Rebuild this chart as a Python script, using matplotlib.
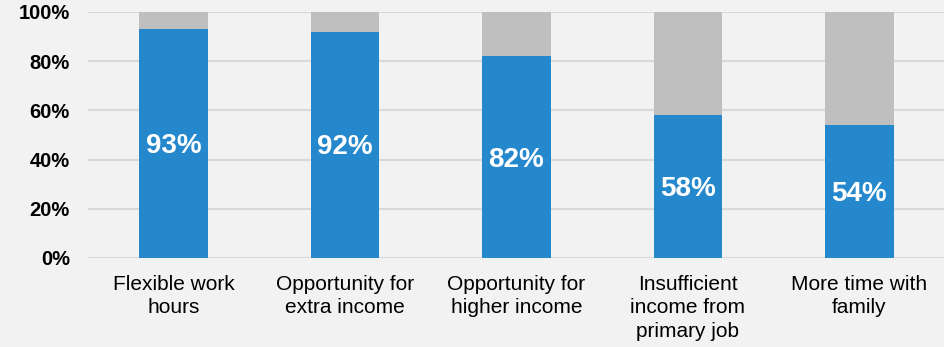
import matplotlib
import matplotlib.pyplot as plt
from matplotlib.ticker import FuncFormatter

matplotlib.use("Agg")

categories = [
    "Flexible work\nhours",
    "Opportunity for\nextra income",
    "Opportunity for\nhigher income",
    "Insufficient\nincome from\nprimary job",
    "More time with\nfamily",
]
share = [93, 92, 82, 58, 54]
remainder = [100 - v for v in share]

blue = "#2688cc"
grey = "#bfbfbf"
background = "#f2f2f2"

plt.rcParams["font.family"] = ["Liberation Sans", "DejaVu Sans"]

fig = plt.figure(figsize=(9.45, 3.47), dpi=100, facecolor=background)
ax = fig.add_axes([0.093, 0.2565, 0.907, 0.709])
ax.set_facecolor(background)

x = range(len(categories))
ax.bar(x, share, width=0.4, color=blue, zorder=3)
ax.bar(x, remainder, width=0.4, bottom=share, color=grey, zorder=3)

for xi, v in zip(x, share):
    ax.text(xi, v / 2 - 1, f"{v}%", ha="center", va="center", color="white",
            fontsize=20, fontweight="bold", zorder=4)

ax.set_xlim(-0.5, len(categories) - 0.5)
ax.set_ylim(0, 100)
ax.set_yticks(range(0, 101, 20))
ax.yaxis.set_major_formatter(FuncFormatter(lambda v, _: f"{v:.0f}%"))
ax.set_xticks(list(x))
ax.set_xticklabels(categories, fontsize=15, linespacing=1.32)

ax.tick_params(axis="y", length=0, pad=13, labelsize=14.5)
ax.tick_params(axis="x", length=0, pad=12)
for label in ax.get_yticklabels():
    label.set_fontweight("bold")

ax.grid(axis="y", color="#d9d9d9", linewidth=1.5, zorder=0)
for side in ax.spines.values():
    side.set_visible(False)

fig.savefig("out.png", dpi=100, facecolor=background)
